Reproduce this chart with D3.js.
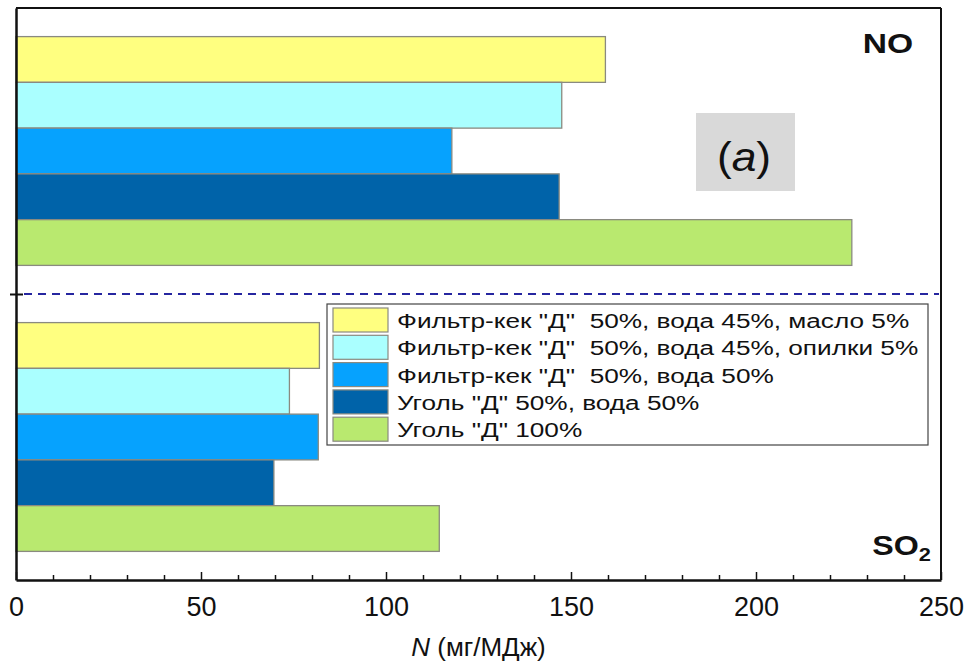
<!DOCTYPE html>
<html>
<head>
<meta charset="utf-8">
<script src="https://cdn.jsdelivr.net/npm/d3@7/dist/d3.min.js"></script>
<style>
  html, body { margin: 0; padding: 0; background: #fff; }
  svg { display: block; font-family: "Liberation Sans", Arial, sans-serif; }
</style>
</head>
<body>
<svg id="chart" width="968" height="664"></svg>
<script>
// Emission groups (top to bottom) and fuel compositions
const groups = ["NO", "SO2"];
const series = [
  'Фильтр-кек "Д"  50%, вода 45%, масло 5%',
  'Фильтр-кек "Д"  50%, вода 45%, опилки 5%',
  'Фильтр-кек "Д"  50%, вода 50%',
  'Уголь "Д" 50%, вода 50%',
  'Уголь "Д" 100%'
];
const colors = ["#ffff80", "#aaffff", "#06a2fe", "#0063a9", "#b9e96f"];
// N, мг/МДж
const noValues  = [159.3, 147.5, 117.8, 146.8, 225.9];
const so2Values = [82.0, 73.9, 81.7, 69.7, 114.4];
const majorTicks = [0, 50, 100, 150, 200, 250];
const minorTicks = d3.range(0, 251, 10).filter(v => v % 50 !== 0);

const svg = d3.select("#chart");
const plotL = 16, plotR = 941, plotT = 8, plotB = 580;

const x = d3.scaleLinear().domain([0, 250]).range([plotL, plotR]);
const y = d3.scaleBand().domain(groups).range([plotT, plotB])
  .paddingInner(0.2).paddingOuter(0.1);
const ySub = d3.scaleBand().domain(d3.range(series.length)).range([0, y.bandwidth()]);

const rows = [];
groups.forEach((g, gi) => {
  const vals = gi === 0 ? noValues : so2Values;
  vals.forEach((v, i) => rows.push({ g, i, v }));
});

// Bars
svg.append("g").selectAll("rect").data(rows).join("rect")
  .attr("x", x(0))
  .attr("y", d => y(d.g) + ySub(d.i))
  .attr("width", d => x(d.v) - x(0))
  .attr("height", ySub.bandwidth())
  .attr("fill", d => colors[d.i])
  .attr("stroke", "#8a8a80")
  .attr("stroke-width", 1.3);

// Separator between groups
const sepY = (y("NO") + y.bandwidth() + y("SO2")) / 2;
svg.append("line")
  .attr("x1", x(0) + 8).attr("x2", plotR - 2)
  .attr("y1", sepY).attr("y2", sepY)
  .attr("stroke", "#2626a0").attr("stroke-width", 2)
  .attr("stroke-dasharray", "8,6");

// Frame
svg.append("line").attr("x1", plotL).attr("x2", plotR).attr("y1", plotT).attr("y2", plotT)
  .attr("stroke", "#111").attr("stroke-width", 2);
svg.append("line").attr("x1", plotR).attr("x2", plotR).attr("y1", plotT).attr("y2", plotB)
  .attr("stroke", "#111").attr("stroke-width", 2);

// Left axis with a single tick on the group boundary
const yLin = d3.scaleLinear().domain([0, 2]).range([plotB, plotT]);
const yAxis = svg.append("g").attr("transform", `translate(${plotL},0)`)
  .call(d3.axisLeft(yLin).tickValues([1]).tickSizeInner(6).tickSizeOuter(0).tickFormat(""));
yAxis.select(".domain").attr("stroke", "#111").attr("stroke-width", 2.5);
yAxis.selectAll(".tick line").attr("x1", -6).attr("x2", 7).attr("stroke", "#111").attr("stroke-width", 2);

// Bottom axis: labelled majors, minor ticks between
const xMinor = svg.append("g").attr("transform", `translate(0,${plotB})`)
  .call(d3.axisBottom(x).tickValues(minorTicks).tickSize(-5).tickFormat(""));
xMinor.select(".domain").remove();
xMinor.selectAll(".tick line").attr("stroke", "#111").attr("stroke-width", 1.5);

const xAxis = svg.append("g").attr("transform", `translate(0,${plotB})`)
  .call(d3.axisBottom(x).tickValues(majorTicks).tickSize(-8).tickSizeOuter(0).tickPadding(17));
xAxis.select(".domain").attr("stroke", "#111").attr("stroke-width", 2.5);
xAxis.selectAll(".tick line").attr("stroke", "#111").attr("stroke-width", 1.5);
xAxis.selectAll(".tick text")
  .attr("fill", "#111").attr("font-size", 27)
  .attr("font-family", "Liberation Sans, Arial, sans-serif");

// Axis title
const title = svg.append("text").attr("x", (plotL + plotR) / 2).attr("y", 656)
  .attr("text-anchor", "middle").attr("font-size", 26).attr("fill", "#111");
title.append("tspan").attr("font-style", "italic").text("N");
title.append("tspan").text(" (мг/МДж)");

// Group labels (slightly widened bold type)
svg.append("text").attr("transform", "translate(913,53) scale(1.2,1)")
  .attr("text-anchor", "end")
  .attr("font-size", 28).attr("font-weight", "bold").attr("fill", "#111").text("NO");
const so2 = svg.append("text").attr("transform", "translate(931,555) scale(1.15,1)")
  .attr("text-anchor", "end")
  .attr("font-size", 28).attr("font-weight", "bold").attr("fill", "#111");
so2.append("tspan").text("SO");
so2.append("tspan").attr("font-size", 19).attr("dy", 6).text("2");

// Panel tag
svg.append("rect").attr("x", 696).attr("y", 113).attr("width", 99).attr("height", 78)
  .attr("fill", "#d9d9d9");
const tag = svg.append("text").attr("transform", "translate(744,171) scale(1.08,1)")
  .attr("text-anchor", "middle")
  .attr("font-size", 41).attr("fill", "#111");
tag.append("tspan").text("(");
tag.append("tspan").attr("font-style", "italic").text("a");
tag.append("tspan").text(")");

// Legend (text set wide)
const lg = svg.append("g").attr("transform", "translate(327,304)");
lg.append("rect").attr("width", 601).attr("height", 141)
  .attr("fill", "#fff").attr("stroke", "#444").attr("stroke-width", 1.2);
const item = lg.selectAll("g.item").data(series).join("g").attr("class", "item")
  .attr("transform", (d, i) => `translate(6,${4 + i * 27.3})`);
item.append("rect").attr("width", 55).attr("height", 24)
  .attr("fill", (d, i) => colors[i]).attr("stroke", "#8a8a80").attr("stroke-width", 1.2);
item.append("text").attr("transform", "translate(64,20) scale(1.31,1)")
  .attr("font-size", 20).attr("fill", "#111")
  .style("white-space", "pre")
  .text(d => d);
</script>
</body>
</html>
